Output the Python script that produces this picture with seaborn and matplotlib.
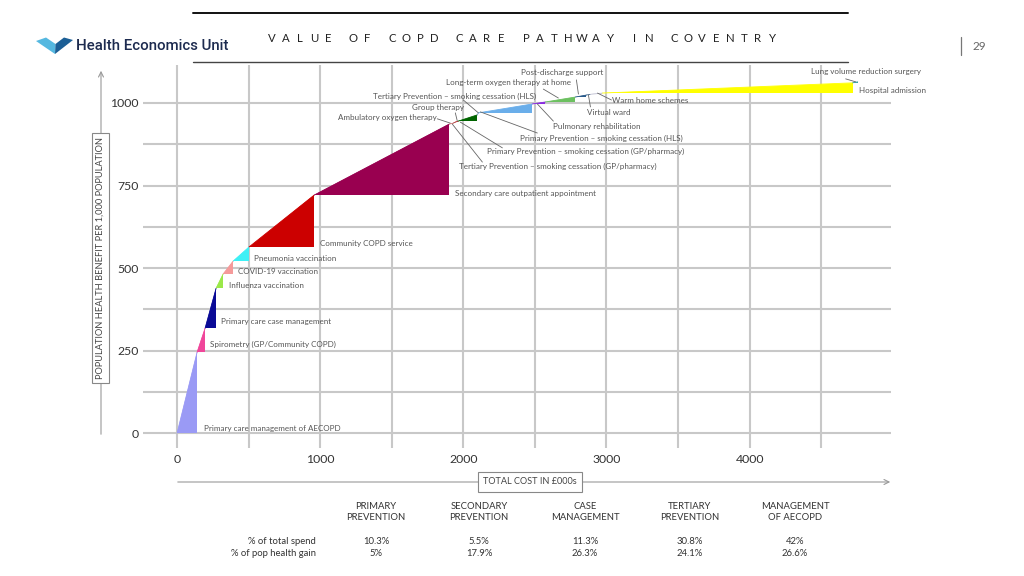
import numpy as np
import pandas as pd
import matplotlib
matplotlib.use("Agg")
import matplotlib.pyplot as plt
import seaborn as sns
from matplotlib.patches import Polygon, FancyArrowPatch
from matplotlib.lines import Line2D

# ---------------- data ----------------
interventions = [
    "Primary care management of AECOPD",
    "Spirometry (GP/Community COPD)",
    "Primary care case management",
    "Influenza vaccination",
    "COVID-19 vaccination",
    "Pneumonia vaccination",
    "Community COPD service",
    "Secondary care outpatient appointment",
    "Ambulatory oxygen therapy",
    "Tertiary Prevention \u2013 smoking cessation (GP/pharmacy)",
    "Group therapy",
    "Primary Prevention \u2013 smoking cessation (GP/pharmacy)",
    "Tertiary Prevention \u2013 smoking cessation (HLS)",
    "Primary Prevention \u2013 smoking cessation (HLS)",
    "Pulmonary rehabilitation",
    "Long-term oxygen therapy at home",
    "Post-discharge support",
    "Virtual ward",
    "Warm home schemes",
    "Hospital admission",
    "Lung volume reduction surgery",
]
# cumulative cost (GBP 000s) and cumulative benefit (per 1,000 population)
cum_cost = [140, 196, 273, 322, 392, 503, 958, 1902, 1930, 1944, 1965,
            2098, 2105, 2483, 2573, 2783, 2860, 2888, 2972, 4720, 4755]
cum_benefit = [245, 318, 439, 482, 521, 564, 721, 936, 939, 942, 945,
               964, 970, 997, 1003, 1018, 1024, 1026, 1030, 1061, 1064]

x_ticks = [0, 1000, 2000, 3000, 4000]
y_ticks = [0, 250, 500, 750, 1000]

groups = ["PRIMARY\nPREVENTION", "SECONDARY\nPREVENTION", "CASE\nMANAGEMENT",
          "TERTIARY\nPREVENTION", "MANAGEMENT\nOF AECOPD"]
spend_pct = ["10.3%", "5.5%", "11.3%", "30.8%", "42%"]
gain_pct = ["5%", "17.9%", "26.3%", "24.1%", "26.6%"]

# ---------------- styles / layout ----------------
colors = ["#9a9af5", "#f0469a", "#0a0a96", "#9be84a", "#f59a9a", "#3ef0f5",
          "#cc0000", "#990050", "#d98080", "#b05050", "#c03030", "#006400",
          "#88aacc", "#6aaeea", "#8a2be2", "#6cc060", "#2a5a8a", "#5a7a9a",
          "#c8c8d8", "#ffff00", "#2a9a9a"]

# label placement: (text x, text y, ha, leader start, leader end)
label_layout = [
    (189, 15, "left", None, None),
    (231, 270, "left", None, None),
    (308, 339, "left", None, None),
    (364, 448, "left", None, None),
    (427, 491, "left", None, None),
    (538, 530, "left", None, None),
    (1000, 573, "left", None, None),
    (1944, 727, "left", None, None),
    (1811, 955, "right", (1818, 952), (1909, 939)),
    (1972, 809, "left", (2133, 821), (1923, 936)),
    (1643, 985, "left", (1944, 970), (1958, 945)),
    (2168, 852, "left", (2273, 864), (1979, 942)),
    (1371, 1021, "left", (2000, 1009), (2105, 970)),
    (2399, 894, "left", (2517, 909), (2119, 973)),
    (2629, 930, "left", (2629, 945), (2517, 997)),
    (1881, 1061, "left", (2559, 1042), (2664, 1015)),
    (2406, 1091, "left", (2790, 1070), (2804, 1027)),
    (2867, 970, "left", (2888, 988), (2874, 1024)),
    (3042, 1006, "left", (3035, 1009), (2937, 1030)),
    (4762, 1039, "left", None, None),
    (4427, 1094, "left", (4671, 1073), (4741, 1064)),
]

sns.set_style("white")
plt.rcParams["font.family"] = ["Lato", "DejaVu Sans"]

W, H = 1024, 576
fig = plt.figure(figsize=(W / 100, H / 100), dpi=100)
fig.patch.set_facecolor("white")


def fx(px):
    return px / W


def fy(py):
    return 1 - py / H


ax = fig.add_axes([fx(143), fy(448), fx(891.3) - fx(143), fy(65) - fy(448)])
ax.set_xlim(-238, 4990)
ax.set_ylim(-45, 1115)
for s in ax.spines.values():
    s.set_visible(False)

ax.set_xticks(x_ticks)
ax.set_xticks([500, 1500, 2500, 3500, 4500], minor=True)
ax.set_yticks(y_ticks)
ax.set_yticks([125, 375, 625, 875], minor=True)
ax.set_xticklabels([str(v) for v in x_ticks])
ax.set_yticklabels([str(v) for v in y_ticks])
ax.tick_params(which="both", length=0)
ax.tick_params(axis="x", pad=4, labelsize=8.8, labelcolor="#333333")
ax.tick_params(axis="y", pad=3, labelsize=8.8, labelcolor="#333333")
ax.grid(True, which="both", color="#c8c8c8", lw=1.5)
ax.set_axisbelow(True)

# triangles
prev_x, prev_y = 0, 0
seg_rows = []
for name, cx, cy, col in zip(interventions, cum_cost, cum_benefit, colors):
    ax.add_patch(Polygon([(prev_x, prev_y), (cx, prev_y), (cx, cy)],
                         closed=True, facecolor=col, edgecolor="none", zorder=3))
    seg_rows.append({"seg": name, "x": prev_x, "y": prev_y})
    seg_rows.append({"seg": name, "x": cx, "y": cy})
    prev_x, prev_y = cx, cy

seg_df = pd.DataFrame(seg_rows)
sns.lineplot(data=seg_df, x="x", y="y", hue="seg", units="seg", estimator=None,
             sort=False, palette=dict(zip(interventions, colors)), legend=False,
             lw=0.6, ax=ax, zorder=4)
ax.set_xlabel("")
ax.set_ylabel("")

# labels
for name, (tx, ty, ha, ls, le) in zip(interventions, label_layout):
    ax.text(tx, ty, name, ha=ha, va="center", fontsize=5.8, color="#555555", zorder=5)
    if ls is not None:
        ax.add_line(Line2D([ls[0], le[0]], [ls[1], le[1]], color="#666666",
                           lw=0.6, zorder=5))

# axis arrows and boxed titles
fig.add_artist(FancyArrowPatch((fx(101), fy(437)), (fx(101), fy(68)),
                               transform=fig.transFigure, arrowstyle="->",
                               mutation_scale=9, color="#999999", lw=0.8))
fig.text(fx(100.5), fy(258), "POPULATION HEALTH BENEFIT PER 1,000 POPULATION",
         rotation=90, ha="center", va="center", fontsize=6.7, color="#444444",
         bbox=dict(boxstyle="square,pad=0.45", fc="white", ec="#888888", lw=0.8))
fig.add_artist(FancyArrowPatch((fx(175), fy(482)), (fx(893), fy(482)),
                               transform=fig.transFigure, arrowstyle="->",
                               mutation_scale=9, color="#999999", lw=0.8))
fig.text(fx(530), fy(482), "TOTAL COST IN \u00a3000s", ha="center", va="center",
         fontsize=6.6, color="#444444",
         bbox=dict(boxstyle="square,pad=0.6", fc="white", ec="#888888", lw=0.8))

# bottom table
col_x = [376, 479, 585, 690, 795]
for cxp, g, s, gn in zip(col_x, groups, spend_pct, gain_pct):
    fig.text(fx(cxp), fy(512), g, ha="center", va="center", fontsize=6.8,
             color="#333333", linespacing=1.3)
    fig.text(fx(cxp), fy(541), s, ha="center", va="center", fontsize=6.8, color="#333333")
    fig.text(fx(cxp), fy(553), gn, ha="center", va="center", fontsize=6.8, color="#333333")
fig.text(fx(316), fy(541), "% of total spend", ha="right", va="center",
         fontsize=6.8, color="#333333")
fig.text(fx(316), fy(553), "% of pop health gain", ha="right", va="center",
         fontsize=6.8, color="#333333")

# header
fig.add_artist(Line2D([fx(193), fx(848)], [fy(12.5), fy(12.5)], color="#111111", lw=1.4))
fig.add_artist(Line2D([fx(193), fx(848)], [fy(61.5), fy(61.5)], color="#444444", lw=1.0))
title = "VALUE OF COPD CARE PATHWAY IN COVENTRY"
words = title.split(" ")
pitch, gap = 14.0, 25.0
pos = 272.0
for wi, w in enumerate(words):
    for ci, ch in enumerate(w):
        fig.text(fx(pos), fy(38), ch, ha="center", va="center", fontsize=8.2,
                 color="#222222")
        if ci < len(w) - 1:
            pos += pitch
    pos += gap
fig.text(fx(76), fy(46), "Health Economics Unit", ha="left", va="center",
         fontsize=10.8, fontfamily=["Roboto", "DejaVu Sans"], fontweight="medium",
         color="#1d2b4f")
fig.add_artist(Polygon([(fx(36), fy(41)), (fx(46), fy(37.5)), (fx(55.5), fy(44)),
                        (fx(55), fy(54))], closed=True, transform=fig.transFigure,
                       facecolor="#55b8e0", edgecolor="none"))
fig.add_artist(Polygon([(fx(55), fy(54)), (fx(55.5), fy(44)), (fx(64), fy(37.5)),
                        (fx(73), fy(40))], closed=True, transform=fig.transFigure,
                       facecolor="#1c5f96", edgecolor="none"))
fig.add_artist(Line2D([fx(961), fx(961)], [fy(37), fy(55)], color="#777777", lw=0.9))
fig.text(fx(979), fy(46), "29", ha="center", va="center", fontsize=8.5, color="#666666")

fig.savefig("out.png", dpi=100, facecolor="white")
